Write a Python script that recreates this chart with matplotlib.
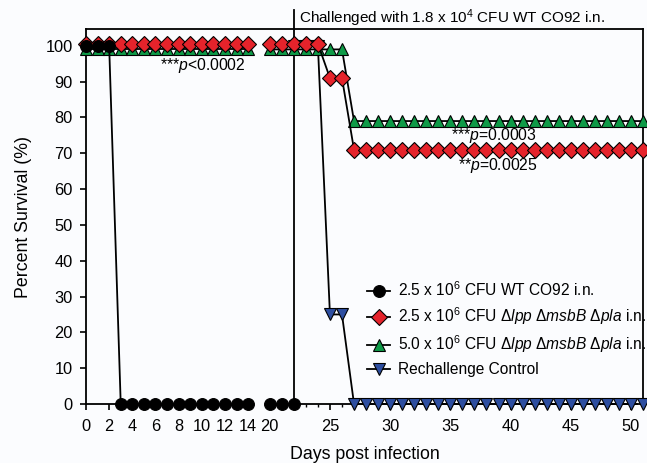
import numpy as np
import matplotlib
matplotlib.use("Agg")
import matplotlib.pyplot as plt
from matplotlib.lines import Line2D

plt.rcParams['font.family'] = ['Liberation Sans', 'DejaVu Sans']
plt.rcParams['mathtext.fontset'] = 'custom'
plt.rcParams['mathtext.rm'] = 'Liberation Sans'
plt.rcParams['mathtext.it'] = 'Liberation Sans:italic'

# ---------------- data ----------------
days_a = [0, 1, 2, 3, 4, 5, 6, 7, 8, 9, 10, 11, 12, 13, 14]
days_b = [20, 21, 22, 23, 24, 25, 26, 27, 28, 29, 30, 31, 32, 33, 34, 35,
          36, 37, 38, 39, 40, 41, 42, 43, 44, 45, 46, 47, 48, 49, 50, 51]

wt_a = [100, 100, 100, 0, 0, 0, 0, 0, 0, 0, 0, 0, 0, 0, 0]
wt_b = [0, 0, 0]  # days 20-22

red_a = [100.6] * 15
red_b = [100.6, 100.6, 100.6, 100.6, 100.6, 91, 91] + [71] * 25

green_a = [99] * 15
green_b = [99, 99, 99, 99, 99, 99, 99] + [79] * 25

blue_b = [100, 100, 100, 25, 25] + [0] * 25  # days 22-51

labels = [r"2.5 x 10$^{6}$ CFU WT CO92 i.n.",
          r"2.5 x 10$^{6}$ CFU Δ$\mathit{lpp}$ Δ$\mathit{msbB}$ Δ$\mathit{pla}$ i.n.",
          r"5.0 x 10$^{6}$ CFU Δ$\mathit{lpp}$ Δ$\mathit{msbB}$ Δ$\mathit{pla}$ i.n.",
          "Rechallenge Control"]
colors = ['#000000', '#E5232B', '#0E9A47', '#2D4EA0']
markers = ['o', 'D', '^', 'v']

major_days = [0, 2, 4, 6, 8, 10, 12, 14, 20, 25, 30, 35, 40, 45, 50]
challenge_day = 22


def xpos(d):
    d = np.asarray(d, dtype=float)
    return np.where(d <= 14, d, 15.87 + (d - 20) * 1.04)


# ---------------- figure ----------------
bg = '#FBFCFE'
fig = plt.figure(figsize=(6.47, 4.63), dpi=100, facecolor=bg)
ax = fig.add_axes([86 / 647, 59 / 463, 557 / 647, 375 / 463], facecolor=bg)

ms = {'o': 8.5, 'D': 7.8, '^': 8.5, 'v': 8.5}
lw = 1.3


def series(xd, yd, i, z):
    ax.plot(xpos(xd), yd, color='black', lw=lw, marker=markers[i],
            markersize=ms[markers[i]], markerfacecolor=colors[i],
            markeredgecolor='black', markeredgewidth=0.8,
            clip_on=False, zorder=z)


# blue (bottom), green, red, black (top)
series(days_b[2:], blue_b, 3, 3)
series(days_a, green_a, 2, 4)
series(days_b, green_b, 2, 4)
series(days_a, red_a, 1, 5)
series(days_b, red_b, 1, 5)
series(days_a, wt_a, 0, 6)
series(days_b[:3], wt_b, 0, 6)

ax.set_xlim(0, 47.6)
ax.set_ylim(0, 104.7)

# spines
for s in ['top', 'left', 'right']:
    ax.spines[s].set_linewidth(1.3)
ax.spines['bottom'].set_visible(False)
ax.plot([0, 14.25], [0, 0], color='black', lw=1.3, clip_on=False, zorder=2)
ax.plot([xpos(20) - 0.25, 47.6], [0, 0], color='black', lw=1.3, clip_on=False, zorder=2)

# ticks
ax.set_yticks(np.arange(0, 101, 10))
ax.set_xticks(xpos(major_days))
ax.set_xticklabels([str(d) for d in major_days])
minor_days = [d for d in range(21, 52) if d % 5 != 0]
ax.set_xticks(xpos(minor_days), minor=True)
ax.tick_params(axis='both', which='major', direction='out', length=4.5, width=1.2,
               labelsize=11.8, color='black')
ax.tick_params(axis='x', which='major', pad=6)
ax.tick_params(axis='y', which='major', pad=5)
ax.tick_params(axis='x', which='minor', direction='out', length=2.5, width=1.0)

ax.set_ylabel('Percent Survival (%)', fontsize=12.8, labelpad=10)
ax.set_xlabel('Days post infection', fontsize=12.8, labelpad=9)

# challenge line
p22 = float(xpos(challenge_day))
ax.plot([p22, p22], [0, 110], color='black', lw=1.3, clip_on=False, zorder=2)
ax.text(p22 + 0.45, 107.6, r"Challenged with 1.8 x 10$^{4}$ CFU WT CO92 i.n.",
        fontsize=11, va='center', ha='left')

# p-value annotations
ax.text(10.1, 94.5, r"***$\mathit{p}$<0.0002", fontsize=11.3, ha='center', va='center')
ax.text(35.2, 74.9, r"***$\mathit{p}$=0.0003", fontsize=11.3, ha='center', va='center')
ax.text(35.6, 66.5, r"**$\mathit{p}$=0.0025", fontsize=11.3, ha='center', va='center')

# legend
handles = [Line2D([], [], color='black', lw=lw, marker=markers[i],
                  markersize=ms[markers[i]], markerfacecolor=colors[i],
                  markeredgecolor='black', markeredgewidth=0.8) for i in range(4)]
ax.legend(handles, labels, loc='upper left', bbox_to_anchor=(0.505, 0.33),
          frameon=False, fontsize=11.2, handlelength=1.45, handletextpad=0.5,
          labelspacing=0.42, borderaxespad=0, borderpad=0)

fig.savefig('out.png', dpi=100, facecolor=bg)
